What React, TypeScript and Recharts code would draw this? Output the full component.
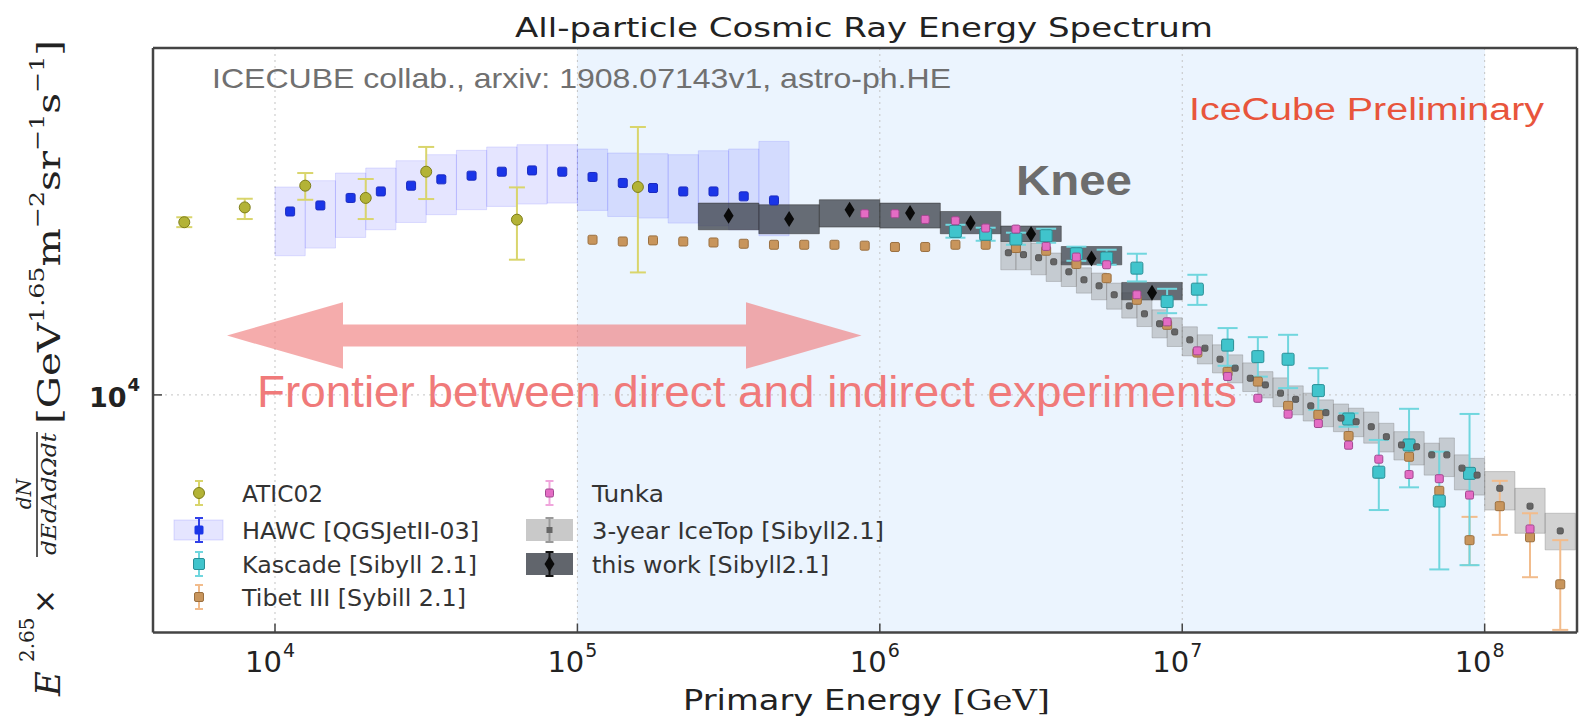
import React from 'react'
import {
  ComposedChart,
  Scatter,
  XAxis,
  YAxis,
  CartesianGrid,
  ReferenceArea,
  ErrorBar,
} from 'recharts'

const WIDTH = 1580
const HEIGHT = 727

const X_DOMAIN: [number, number] = [3950, 2.02e8]
const Y_DOMAIN: [number, number] = [3000, 58000]
const X_TICKS = [1e4, 1e5, 1e6, 1e7, 1e8]
const Y_TICKS = [1e4]

// ATIC02
const aticLogE = [3.7, 3.9, 4.1, 4.3, 4.5, 4.8, 5.2]
const aticFlux = [23990, 25860, 28870, 27130, 30990, 24300, 28680]
const aticLow = [23400, 24380, 26880, 24380, 26980, 19840, 18600]
const aticHigh = [24600, 27020, 30780, 29860, 35130, 28620, 38870]

// HAWC [QGSJetII-03]
const HAWC_HALF_BIN = 0.05
const hawcLogE = [4.05, 4.15, 4.25, 4.35, 4.45, 4.55, 4.65, 4.75, 4.85, 4.95, 5.05, 5.15, 5.25, 5.35, 5.45, 5.55, 5.65]
const hawcFlux = [25330, 26120, 27130, 28040, 28870, 29810, 30370, 30990, 31190, 30990, 30170, 29270, 28530, 28040, 28040, 27350, 26790]
const hawcBoxLow = [20240, 21040, 22210, 23090, 23960, 24920, 25560, 25990, 26300, 26430, 25470, 24700, 24500, 23880, 23560, 23090, 22400]
const hawcBoxHigh = [28680, 29610, 30780, 31580, 32770, 33780, 34530, 35130, 35540, 35540, 34770, 34070, 33950, 33780, 34460, 34770, 36130]

// Kascade [Sibyll 2.1]
const kascadeLogE = [6.25, 6.35, 6.45, 6.55, 6.65, 6.75, 6.85, 6.95, 7.05, 7.15, 7.25, 7.35, 7.45, 7.55, 7.65, 7.75, 7.85, 7.95]
const kascadeFlux = [22900, 22570, 22030, 22400, 20450, 20010, 19010, 16050, 17090, 12870, 12140, 11980, 10220, 8850, 6760, 7760, 5840, 6720]
const kascadeLow = [22180, 21840, 21400, 21620, 19730, 19340, 17770, 15130, 15780, 11590, 10970, 10350, 9270, 8510, 5580, 6260, 4130, 4220]
const kascadeHigh = [23680, 23330, 22750, 23210, 21190, 20870, 20450, 17120, 18380, 14030, 13400, 13560, 11450, 9110, 7960, 9320, 7500, 9080]

// Tibet III [Sybill 2.1]
const tibetLogE = [5.05, 5.15, 5.25, 5.35, 5.45, 5.55, 5.65, 5.75, 5.85, 5.95, 6.05, 6.15, 6.25, 6.35, 6.45, 6.55, 6.65, 6.75, 6.85, 6.95, 7.05, 7.15, 7.25, 7.35, 7.45, 7.55, 7.65, 7.75, 7.85, 7.95, 8.05, 8.15, 8.25]
const tibetFlux = [21950, 21760, 21880, 21760, 21650, 21510, 21400, 21400, 21400, 21300, 21160, 21160, 21400, 21400, 21050, 20760, 19410, 18070, 16190, 14260, 12390, 11240, 10700, 9460, 9040, 8120, 6720, 7310, 6150, 4790, 5690, 4860, 3830]
const tibetLow: (number | null)[] = [null, null, null, null, null, null, null, null, null, null, null, null, null, null, null, null, null, null, null, null, null, null, null, null, null, null, null, null, null, 4220, 4920, 3970, 3040]
const tibetHigh: (number | null)[] = [null, null, null, null, null, null, null, null, null, null, null, null, null, null, null, null, null, null, null, null, null, null, null, null, null, null, null, null, null, 5390, 6470, 5490, 4790]

// Tunka
const tunkaLogE = [5.95, 6.05, 6.15, 6.25, 6.35, 6.45, 6.55, 6.65, 6.75, 6.85, 6.95, 7.05, 7.15, 7.25, 7.35, 7.45, 7.55, 7.65, 7.75, 7.85, 7.95, 8.15]
const tunkaFlux = [25040, 25040, 24330, 24170, 23290, 23170, 21220, 20110, 19340, 16610, 14480, 12500, 10980, 9830, 9070, 8650, 7750, 7220, 6680, 6540, 6020, 5070]

// 3-year IceTop [Sibyll2.1]
const icetopLogLo = [6.4, 6.45, 6.5, 6.55, 6.6, 6.65, 6.7, 6.75, 6.8, 6.85, 6.9, 6.95, 7.0, 7.05, 7.1, 7.15, 7.2, 7.25, 7.3, 7.35, 7.4, 7.45, 7.5, 7.55, 7.6, 7.65, 7.7, 7.75, 7.8, 7.85, 7.9, 7.95, 8.0, 8.1, 8.2]
const icetopLogHi = [6.45, 6.5, 6.55, 6.6, 6.65, 6.7, 6.75, 6.8, 6.85, 6.9, 6.95, 7.0, 7.05, 7.1, 7.15, 7.2, 7.25, 7.3, 7.35, 7.4, 7.45, 7.5, 7.55, 7.6, 7.65, 7.7, 7.75, 7.8, 7.85, 7.9, 7.95, 8.0, 8.1, 8.2, 8.3]
const icetopFlux = [20550, 20350, 20040, 19630, 18660, 17920, 17380, 16610, 15700, 15080, 14340, 13760, 13220, 12670, 11980, 11450, 10880, 10520, 10090, 9780, 9460, 9140, 8890, 8730, 8510, 8090, 7760, 7690, 7380, 7380, 6900, 6660, 6230, 5690, 5020]
const icetopHigh = [21760, 21760, 21580, 20520, 19630, 19040, 18540, 17620, 16780, 16190, 15390, 14780, 14120, 13560, 12890, 12250, 11760, 11250, 10900, 10470, 10090, 9750, 9550, 9350, 9170, 8660, 8300, 8300, 7830, 8040, 7380, 7250, 6780, 6230, 5490]
const icetopLow = [18850, 18850, 18380, 17770, 17320, 16750, 16190, 15440, 14760, 14140, 13350, 12780, 12190, 11700, 11180, 10630, 10170, 9850, 9420, 9040, 8760, 8510, 8300, 8090, 7830, 7490, 7190, 7010, 6660, 6610, 6180, 6020, 5580, 4960, 4560]

// this work [Sibyll2.1]
const thisWorkLogLo = [5.4, 5.6, 5.8, 6.0, 6.2, 6.4, 6.6, 6.8]
const thisWorkLogHi = [5.6, 5.8, 6.0, 6.2, 6.4, 6.6, 6.8, 7.0]
const thisWorkFlux = [24800, 24380, 25560, 25130, 23880, 22590, 19970, 16780]
const thisWorkLow = [23090, 22630, 23410, 23290, 22630, 21760, 19330, 16190]
const thisWorkHigh = [26430, 26210, 26880, 26430, 25330, 23530, 21210, 17680]

const AXIS = '#444'
const SHADE = '#ebf4fe'

const toGeV = (logE: number) => 10 ** logE

function minorTicks(lo: number, hi: number) {
  const out: number[] = []
  for (let p = Math.floor(Math.log10(lo)); p <= Math.ceil(Math.log10(hi)); p++) {
    for (let k = 2; k <= 9; k++) {
      const v = k * 10 ** p
      if (v > lo && v < hi) out.push(v)
    }
  }
  return out
}
const X_MINOR = minorTicks(X_DOMAIN[0], X_DOMAIN[1])
const Y_MINOR = minorTicks(Y_DOMAIN[0], Y_DOMAIN[1])

const aticRows = aticLogE.map((l, i) => ({
  x: toGeV(l),
  y: aticFlux[i],
  err: [aticFlux[i] - aticLow[i], aticHigh[i] - aticFlux[i]],
}))
const hawcRows = hawcLogE.map((l, i) => ({ x: toGeV(l), y: hawcFlux[i] }))
const kascadeRows = kascadeLogE.map((l, i) => ({
  x: toGeV(l),
  y: kascadeFlux[i],
  err: [kascadeFlux[i] - kascadeLow[i], kascadeHigh[i] - kascadeFlux[i]],
}))
const tibetRows = tibetLogE.map((l, i) => {
  const lo = tibetLow[i]
  const hi = tibetHigh[i]
  return {
    x: toGeV(l),
    y: tibetFlux[i],
    err: lo != null && hi != null ? [tibetFlux[i] - lo, hi - tibetFlux[i]] : undefined,
  }
})
const tunkaRows = tunkaLogE.map((l, i) => ({ x: toGeV(l), y: tunkaFlux[i] }))
const icetopRows = icetopLogLo.map((l, i) => ({
  x: toGeV((l + icetopLogHi[i]) / 2),
  y: icetopFlux[i],
}))
const thisWorkRows = thisWorkLogLo.map((l, i) => ({
  x: toGeV((l + thisWorkLogHi[i]) / 2),
  y: thisWorkFlux[i],
}))

const square = (size: number, fill: string, stroke: string) => (props: any) => (
  <rect
    x={props.cx - size / 2}
    y={props.cy - size / 2}
    width={size}
    height={size}
    rx={1.5}
    fill={fill}
    stroke={stroke}
    strokeWidth={1}
  />
)

const circle = (props: any) => (
  <circle cx={props.cx} cy={props.cy} r={5.5} fill="#b3b336" stroke="#7d7d18" strokeWidth={1} />
)

const diamond = (props: any) => (
  <polygon
    points={`${props.cx},${props.cy - 8} ${props.cx + 5},${props.cy} ${props.cx},${props.cy + 8} ${props.cx - 5},${props.cy}`}
    fill="#0a0a0a"
  />
)

function XTick(props: any) {
  const exp = Math.round(Math.log10(props.payload.value))
  return (
    <text x={props.x - 30} y={671.5} fontSize={29} fontFamily="DejaVu Sans" fill="#222">
      10
      <tspan dy={-15} dx={1} fontSize={19}>{exp}</tspan>
    </text>
  )
}

function YTick(props: any) {
  const exp = Math.round(Math.log10(props.payload.value))
  return (
    <text x={89} y={props.y + 12} fontSize={27} fontWeight="bold" fontFamily="DejaVu Sans" fill="#222">
      10
      <tspan dy={-16} dx={1} fontSize={18}>{exp}</tspan>
    </text>
  )
}

function ErrMark({ x, y, color, half = 12, cap = 8 }: any) {
  return (
    <g stroke={color} strokeWidth={2}>
      <line x1={x} y1={y - half} x2={x} y2={y + half} />
      <line x1={x - cap / 2} y1={y - half} x2={x + cap / 2} y2={y - half} />
      <line x1={x - cap / 2} y1={y + half} x2={x + cap / 2} y2={y + half} />
    </g>
  )
}

const LEGEND_ROWS = [493, 530, 564, 597]
const LEGEND_FONT = { fontFamily: 'DejaVu Sans', fontSize: 23, fill: '#333' }

function Legendary() {
  const c1 = 199
  const c2 = 549.5
  const t1 = 242
  const t2 = 592
  const [r1, r2, r3, r4] = LEGEND_ROWS
  return (
    <g>
      <ErrMark x={c1} y={r1} color="#d9d56c" />
      <circle cx={c1} cy={r1} r={5.5} fill="#b3b336" stroke="#7d7d18" />
      <text x={t1} y={r1 + 9} {...LEGEND_FONT} textLength={81} lengthAdjust="spacingAndGlyphs">ATIC02</text>

      <rect x={174} y={r2 - 10} width={49} height={20} fill="#0000ff" fillOpacity={0.1} stroke="#3030ff" strokeOpacity={0.15} />
      <ErrMark x={c1} y={r2} color="#3040e8" />
      <rect x={c1 - 4.5} y={r2 - 4.5} width={9} height={9} rx={1.5} fill="#1a35e8" />
      <text x={t1} y={r2 + 9} {...LEGEND_FONT} textLength={237} lengthAdjust="spacingAndGlyphs">HAWC [QGSJetII-03]</text>

      <ErrMark x={c1} y={r3} color="#70d6de" />
      <rect x={c1 - 5.5} y={r3 - 5.5} width={11} height={11} rx={1.5} fill="#40c4cc" stroke="#2a8f96" />
      <text x={t1} y={r3 + 9} {...LEGEND_FONT} textLength={235} lengthAdjust="spacingAndGlyphs">Kascade [Sibyll 2.1]</text>

      <ErrMark x={c1} y={r4} color="#f2bc8c" />
      <rect x={c1 - 4.5} y={r4 - 4.5} width={9} height={9} rx={1.5} fill="#c8955c" stroke="#9b7040" />
      <text x={t1} y={r4 + 9} {...LEGEND_FONT} textLength={224} lengthAdjust="spacingAndGlyphs">Tibet III [Sybill 2.1]</text>

      <ErrMark x={c2} y={r1} color="#f0a6dc" />
      <rect x={c2 - 4} y={r1 - 4} width={8} height={8} rx={1.5} fill="#e46cc4" stroke="#a04890" />
      <text x={t2} y={r1 + 9} {...LEGEND_FONT} textLength={72} lengthAdjust="spacingAndGlyphs">Tunka</text>

      <rect x={526} y={r2 - 11} width={47} height={22} fill="#888" fillOpacity={0.45} />
      <ErrMark x={c2} y={r2} color="#999" />
      <rect x={c2 - 3} y={r2 - 3} width={6} height={6} fill="#666" />
      <text x={t2} y={r2 + 9} {...LEGEND_FONT} textLength={292} lengthAdjust="spacingAndGlyphs">3-year IceTop [Sibyll2.1]</text>

      <rect x={526} y={r3 - 11} width={47} height={22} fill="#3a3f47" fillOpacity={0.8} />
      <ErrMark x={c2} y={r3} color="#111" />
      <polygon points={`${c2},${r3 - 8} ${c2 + 5},${r3} ${c2},${r3 + 8} ${c2 - 5},${r3}`} fill="#0a0a0a" />
      <text x={t2} y={r3 + 9} {...LEGEND_FONT} textLength={237} lengthAdjust="spacingAndGlyphs">this work [Sibyll2.1]</text>
    </g>
  )
}

function YLabel() {
  const serif = 'DejaVu Serif'
  return (
    <g transform="translate(0,700) rotate(-90)" fill="#222">
      <text x={4} y={60} fontFamily={serif} fontStyle="italic" fontSize={34}>E</text>
      <text x={38} y={34} fontFamily={serif} fontSize={20}>2.65</text>
      <text x={86} y={55} fontFamily="DejaVu Sans" fontSize={30}>×</text>
      <text x={206} y={31} fontFamily={serif} fontStyle="italic" fontSize={20} textAnchor="middle">dN</text>
      <line x1={143} y1={37} x2={268} y2={37} stroke="#222" strokeWidth={1.5} />
      <text x={145} y={56} fontFamily={serif} fontStyle="italic" fontSize={20} textLength={122} lengthAdjust="spacingAndGlyphs">dEdAdΩdt</text>
      <text x={276} y={60} fontFamily={serif} fontSize={32} textLength={384} lengthAdjust="spacingAndGlyphs">
        <tspan>[GeV</tspan>
        <tspan dy={-16} fontSize={20}>1.65</tspan>
        <tspan dy={16}>m</tspan>
        <tspan dy={-16} fontSize={20}>−2</tspan>
        <tspan dy={16}>sr</tspan>
        <tspan dy={-16} fontSize={20}>−1</tspan>
        <tspan dy={16}>s</tspan>
        <tspan dy={-16} fontSize={20}>−1</tspan>
        <tspan dy={16}>]</tspan>
      </text>
    </g>
  )
}

function Overlay() {
  return (
    <svg
      width={WIDTH}
      height={HEIGHT}
      style={{ position: 'absolute', left: 0, top: 0, pointerEvents: 'none' }}
    >
      <text x={515} y={37} fontFamily="DejaVu Sans" fontSize={27} fill="#222" textLength={698} lengthAdjust="spacingAndGlyphs">
        All-particle Cosmic Ray Energy Spectrum
      </text>
      <text x={212} y={88} fontFamily="Liberation Sans" fontSize={28} fill="#707070" textLength={739} lengthAdjust="spacingAndGlyphs">
        ICECUBE collab., arxiv: 1908.07143v1, astro-ph.HE
      </text>
      <text x={1189} y={120} fontFamily="Liberation Sans" fontSize={31} fill="#e8553c" textLength={355} lengthAdjust="spacingAndGlyphs">
        IceCube Preliminary
      </text>
      <text x={1016} y={195} fontFamily="Liberation Sans" fontWeight="bold" fontSize={42} fill="#6d6d6d" textLength={116} lengthAdjust="spacingAndGlyphs">
        Knee
      </text>
      <polygon
        points="227,335.6 343,302.3 343,324.5 746,324.5 746,302.3 861.5,335.6 746,368.8 746,346.6 343,346.6 343,368.8"
        fill="#f08080"
        fillOpacity={0.65}
      />
      <text x={257} y={407} fontFamily="Liberation Sans" fontSize={44} fill="#f07a7a" textLength={980} lengthAdjust="spacingAndGlyphs">
        Frontier between direct and indirect experiments
      </text>
      <Legendary />
      <text x={683} y={710} fontFamily="DejaVu Sans" fontSize={28} fill="#222" textLength={367} lengthAdjust="spacingAndGlyphs">
        <tspan>Primary Energy </tspan>
        <tspan fontFamily="DejaVu Serif">[GeV]</tspan>
      </text>
      <YLabel />
    </svg>
  )
}

export default function App() {
  const frame = { stroke: AXIS, strokeWidth: 2.5 }
  const major = { stroke: AXIS, strokeWidth: 1.5 }
  const minor = { stroke: AXIS, strokeWidth: 1 }
  return (
    <div style={{ position: 'absolute', left: 0, top: 0, width: WIDTH, height: HEIGHT, background: '#fff' }}>
      <ComposedChart width={WIDTH} height={HEIGHT} margin={{ top: 46, right: 1, bottom: 92.5, left: 151 }}>
        <CartesianGrid
          xAxisId="x"
          yAxisId="y"
          stroke="#c4c4c4"
          strokeDasharray="2 4"
          verticalFill={['none', 'none', SHADE, SHADE, SHADE, 'none']}
          fillOpacity={1}
        />
        <XAxis xAxisId="x" dataKey="x" type="number" scale="log" domain={X_DOMAIN} allowDataOverflow ticks={X_TICKS} interval={0} height={1} tickSize={-9} tick={(p: any) => <XTick {...p} />} axisLine={frame} tickLine={major} />
        <XAxis xAxisId="xMinor" type="number" scale="log" domain={X_DOMAIN} allowDataOverflow ticks={X_MINOR} interval={0} height={1} tickSize={-5} tick={false} axisLine={false} tickLine={minor} />
        <XAxis xAxisId="xTop" orientation="top" type="number" scale="log" domain={X_DOMAIN} allowDataOverflow ticks={X_TICKS} interval={0} height={1} tickSize={-9} tick={false} axisLine={frame} tickLine={major} />
        <XAxis xAxisId="xTopMinor" orientation="top" type="number" scale="log" domain={X_DOMAIN} allowDataOverflow ticks={X_MINOR} interval={0} height={1} tickSize={-5} tick={false} axisLine={false} tickLine={minor} />
        <YAxis yAxisId="y" dataKey="y" type="number" scale="log" domain={Y_DOMAIN} allowDataOverflow ticks={Y_TICKS} interval={0} width={1} tickSize={-9} tick={(p: any) => <YTick {...p} />} axisLine={frame} tickLine={major} />
        <YAxis yAxisId="yMinor" type="number" scale="log" domain={Y_DOMAIN} allowDataOverflow ticks={Y_MINOR} interval={0} width={1} tickSize={-5} tick={false} axisLine={false} tickLine={minor} />
        <YAxis yAxisId="yRight" orientation="right" type="number" scale="log" domain={Y_DOMAIN} allowDataOverflow ticks={Y_TICKS} interval={0} width={1} tickSize={-9} tick={false} axisLine={frame} tickLine={major} />
        <YAxis yAxisId="yRightMinor" orientation="right" type="number" scale="log" domain={Y_DOMAIN} allowDataOverflow ticks={Y_MINOR} interval={0} width={1} tickSize={-5} tick={false} axisLine={false} tickLine={minor} />

        {hawcLogE.map((l, i) => (
          <ReferenceArea
            key={`hawc-${i}`}
            xAxisId="x"
            yAxisId="y"
            x1={toGeV(l - HAWC_HALF_BIN)}
            x2={toGeV(l + HAWC_HALF_BIN)}
            y1={hawcBoxLow[i]}
            y2={hawcBoxHigh[i]}
            fill="#0000ff"
            fillOpacity={0.1}
            stroke="#3030ff"
            strokeOpacity={0.13}
            ifOverflow="hidden"
          />
        ))}
        {icetopLogLo.map((l, i) => (
          <ReferenceArea
            key={`icetop-${i}`}
            xAxisId="x"
            yAxisId="y"
            x1={toGeV(l)}
            x2={toGeV(icetopLogHi[i])}
            y1={icetopLow[i]}
            y2={icetopHigh[i]}
            fill="#888"
            fillOpacity={0.38}
            stroke="#777"
            strokeOpacity={0.35}
            ifOverflow="hidden"
          />
        ))}
        {thisWorkLogLo.map((l, i) => (
          <ReferenceArea
            key={`tw-${i}`}
            xAxisId="x"
            yAxisId="y"
            x1={toGeV(l)}
            x2={toGeV(thisWorkLogHi[i])}
            y1={thisWorkLow[i]}
            y2={thisWorkHigh[i]}
            fill="#3a3f47"
            fillOpacity={0.75}
            stroke="#333"
            strokeOpacity={0.5}
            ifOverflow="hidden"
          />
        ))}

        <Scatter name="Tibet III" data={tibetRows} xAxisId="x" yAxisId="y" dataKey="y" shape={square(9, '#c8955c', '#9b7040')} isAnimationActive={false}>
          <ErrorBar dataKey="err" direction="y" width={8} stroke="#f2bc8c" strokeWidth={2} />
        </Scatter>
        <Scatter name="Kascade" data={kascadeRows} xAxisId="x" yAxisId="y" dataKey="y" shape={square(12, '#40c4cc', '#2a8f96')} isAnimationActive={false}>
          <ErrorBar dataKey="err" direction="y" width={10} stroke="#70d6de" strokeWidth={2} />
        </Scatter>
        <Scatter name="Tunka" data={tunkaRows} xAxisId="x" yAxisId="y" dataKey="y" shape={square(8, '#e46cc4', '#a04890')} isAnimationActive={false} />
        <Scatter name="3-year IceTop" data={icetopRows} xAxisId="x" yAxisId="y" dataKey="y" shape={square(6, '#656565', '#555')} isAnimationActive={false} />
        <Scatter name="ATIC02" data={aticRows} xAxisId="x" yAxisId="y" dataKey="y" shape={circle} isAnimationActive={false}>
          <ErrorBar dataKey="err" direction="y" width={8} stroke="#d9d56c" strokeWidth={2} />
        </Scatter>
        <Scatter name="HAWC" data={hawcRows} xAxisId="x" yAxisId="y" dataKey="y" shape={square(9, '#1a35e8', '#1a2ac0')} isAnimationActive={false} />
        <Scatter name="this work" data={thisWorkRows} xAxisId="x" yAxisId="y" dataKey="y" shape={diamond} isAnimationActive={false} />
      </ComposedChart>
      <Overlay />
    </div>
  )
}
